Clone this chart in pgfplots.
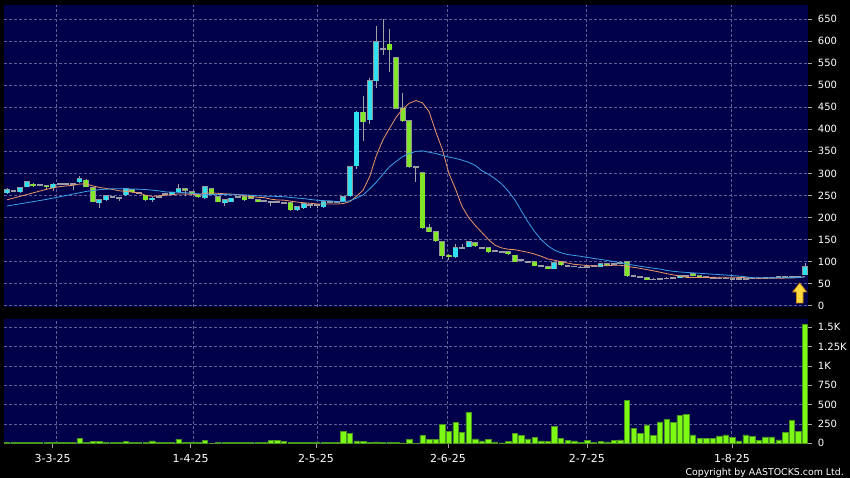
\documentclass[border=0pt]{standalone}
\usepackage{pgfplots}
\pgfplotsset{compat=1.18}
\usepackage{pgfplotstable}
\usepackage{fontspec}
\setmainfont{DejaVu Sans}

\definecolor{navybg}{RGB}{0,0,74}
\definecolor{gridc}{RGB}{95,95,150}
\definecolor{upc}{RGB}{45,225,240}
\definecolor{dnc}{RGB}{130,230,40}
\definecolor{edgec}{RGB}{150,150,155}
\definecolor{wickc}{RGB}{160,160,165}
\definecolor{dojic}{RGB}{155,155,165}
\definecolor{maorange}{RGB}{238,150,100}
\definecolor{mablue}{RGB}{60,160,230}
\definecolor{volfill}{RGB}{125,250,20}
\definecolor{voledge}{RGB}{75,150,30}
\definecolor{arrowy}{RGB}{255,218,60}
\definecolor{arrowo}{RGB}{205,135,20}

\pgfdeclareplotmark{yarrow}{%
  \pgfpathmoveto{\pgfpoint{0bp}{10bp}}%
  \pgfpathlineto{\pgfpoint{7bp}{1bp}}%
  \pgfpathlineto{\pgfpoint{3.3bp}{1bp}}%
  \pgfpathlineto{\pgfpoint{3.3bp}{-10bp}}%
  \pgfpathlineto{\pgfpoint{-3.3bp}{-10bp}}%
  \pgfpathlineto{\pgfpoint{-3.3bp}{1bp}}%
  \pgfpathlineto{\pgfpoint{-7bp}{1bp}}%
  \pgfpathclose
  \pgfusepathqfillstroke}

% daily candles (index, open, high, low, close), split by direction
\pgfplotstableread{
i o h l c
0 256 266 254 263
2 258 269 256 267
3 270 283 268 281
7 267 278 260 276
11 281 295 279 288
14 233 241 222 240
15 240 250 238 249
18 251 267 249 265
22 240 246 236 244
25 252 258 250 257
26 258 275 256 265
30 245 271 243 270
33 233 241 226 240
34 236 245 234 244
44 217 226 215 224
45 222 232 220 231
48 224 238 222 236
51 236 249 234 247
52 249 317 247 315
53 317 441 310 439
55 421 516 413 510
56 510 634 493 598
68 111 140 109 131
70 134 146 132 145
83 84 98 83 97
90 88 96 87 95
102 63 70 62 68
121 70 97 69 88
}\upcandles

\pgfplotstableread{
i o h l c
4 276 278 270 272
6 272 274 262 269
12 285 287 268 269
13 267 268 234 236
19 263 264 256 258
21 251 252 238 240
27 265 266 248 262
28 258 260 252 254
29 251 253 245 247
31 265 266 252 254
32 247 249 234 236
36 247 248 238 240
37 249 251 242 244
38 240 241 234 236
43 233 235 215 217
54 439 476 373 417
58 593 628 530 580
59 562 563 446 448
60 448 483 417 419
61 419 420 313 315
63 301 302 175 177
64 177 185 166 168
65 168 169 145 147
66 145 146 105 113
67 115 117 104 111
71 143 144 134 136
73 131 132 120 122
76 122 123 116 118
77 115 116 99 100
80 100 101 89 91
82 88 89 83 84
84 100 101 91 93
91 95 96 91 92
94 100 101 66 68
97 63 64 58 59
104 72 73 67 68
105 68 69 64 65
}\downcandles

\pgfplotstableread{
i o h l c
1 260 262 258 260
5 274 276 272 274
8 277 279 275 277
9 277 279 275 277
10 277 279 262 277
16 247 249 245 247
17 245 247 238 245
20 256 258 254 256
23 247 249 245 247
24 253 255 251 253
35 247 249 245 247
39 238 240 236 238
40 236 238 226 236
41 235 237 233 235
42 233 235 231 233
46 228 230 222 228
47 228 230 222 228
49 236 238 234 236
50 236 238 234 236
57 582 650 568 582
62 315 316 281 315
69 131 140 129 131
72 131 133 129 131
74 124 126 122 124
75 122 124 120 122
78 104 106 102 104
79 100 102 98 100
81 90 92 88 90
85 90 92 88 90
86 89 91 87 89
87 87 89 86 87
88 88 90 86 88
89 91 93 89 91
92 95 97 93 95
93 97 99 95 97
95 68 70 66 68
96 66 68 64 66
98 60 62 58 60
99 61 63 60 61
100 62 64 61 62
101 63 65 62 63
103 67 69 66 67
106 65 67 64 65
107 63 65 62 63
108 62 64 61 62
109 62 64 61 62
110 61 63 60 61
111 61 63 60 61
112 61 63 60 61
113 62 64 61 62
114 62 64 61 62
115 63 65 62 63
116 64 66 63 64
117 65 67 64 65
118 65 67 64 65
119 65 67 64 65
120 66 68 65 66
}\flatcandles

% daily volume
\pgfplotstableread{
i v
0 8
1 8
2 15
3 15
4 12
5 12
6 10
7 10
8 10
9 10
10 10
11 62
12 10
13 22
14 22
15 12
16 10
17 10
18 22
19 10
20 10
21 10
22 31
23 10
24 10
25 10
26 53
27 10
28 10
29 10
30 35
31 0
32 10
33 10
34 10
35 10
36 10
37 10
38 12
39 13
40 40
41 40
42 22
43 10
44 10
45 8
46 8
47 10
48 10
49 12
50 15
51 159
52 129
53 30
54 22
55 13
56 17
57 10
58 10
59 10
60 5
61 52
62 2
63 107
64 52
65 52
66 246
67 159
68 267
69 142
70 401
71 56
72 30
73 52
74 17
75 4
76 26
77 129
78 103
79 56
80 78
81 30
82 26
83 216
84 60
85 34
86 30
87 13
88 39
89 13
90 22
91 17
92 34
93 43
94 552
95 194
96 129
97 237
98 99
99 276
100 310
101 267
102 358
103 371
104 108
105 65
106 65
107 65
108 95
109 108
110 78
111 30
112 108
113 86
114 34
115 82
116 82
117 43
118 142
119 293
120 151
121 1540
}\vols

\pgfplotsset{
  panel/.style={
    scale only axis, anchor=south west, width=804bp,
    xmin=-0.455, xmax=121.46,
    axis background/.style={fill=navybg},
    axis line style={draw=none},
    ytick pos=right, yticklabel pos=right,
    tick align=outside, major tick length=4bp,
    tick style={draw=wickc, line width=0.6bp},
    major grid style={draw=gridc, dash pattern=on 3bp off 2bp, line width=0.6bp},
    ymajorgrids,
    /pgf/number format/assume math mode=true,
    yticklabel style={font=\fontsize{10bp}{12bp}\selectfont, text=white,
      anchor=west, inner sep=0pt, xshift=5.7bp},
  },
  % a thick error bar drawn as a candle body or wick
  stick/.style 2 args={draw=none, mark=none, forget plot,
    error bars/.cd, y dir=both, y explicit, error mark=none,
    error bar style={draw=#1, line width=#2}},
}

\begin{document}
\begin{tikzpicture}
\fill[black] (0,0) rectangle (850bp,478bp);

% price panel
\begin{axis}[panel, at={(4bp,171bp)}, height=302bp,
  ymin=-2.95, ymax=681.7,
  ytick={0,50,...,650},
  xtick={7.54,28.25,47.05,66.76,87.8,109.78}, xticklabels={},
  x tick style={draw=none}, xmajorgrids]
% wicks
\addplot[stick={wickc}{0.8bp}]
  table[x=i, y expr={(\thisrow{h}+\thisrow{l})/2},
        y error expr={(\thisrow{h}-\thisrow{l})/2}] {\upcandles};
\addplot[stick={wickc}{0.8bp}]
  table[x=i, y expr={(\thisrow{h}+\thisrow{l})/2},
        y error expr={(\thisrow{h}-\thisrow{l})/2}] {\downcandles};
\addplot[stick={wickc}{0.8bp}]
  table[x=i, y expr={(\thisrow{h}+\thisrow{l})/2},
        y error expr={(\thisrow{h}-\thisrow{l})/2}] {\flatcandles};
% flat candles
\addplot[stick={dojic}{5.8bp}]
  table[x=i, y=c, y error expr={1.5}] {\flatcandles};
% rising candles
\addplot[stick={edgec}{5.8bp}]
  table[x=i, y expr={(\thisrow{o}+\thisrow{c})/2},
        y error expr={(\thisrow{c}-\thisrow{o})/2+1.0}] {\upcandles};
\addplot[stick={upc}{4.2bp}]
  table[x=i, y expr={(\thisrow{o}+\thisrow{c})/2},
        y error expr={(\thisrow{c}-\thisrow{o})/2}] {\upcandles};
% falling candles
\addplot[stick={edgec}{5.8bp}]
  table[x=i, y expr={(\thisrow{o}+\thisrow{c})/2},
        y error expr={(\thisrow{o}-\thisrow{c})/2+1.0}] {\downcandles};
\addplot[stick={dnc}{4.2bp}]
  table[x=i, y expr={(\thisrow{o}+\thisrow{c})/2},
        y error expr={(\thisrow{o}-\thisrow{c})/2}] {\downcandles};
% 10-day average
\addplot[maorange, line width=0.8bp, mark=none] coordinates {
(0,240) (1,244) (2,248) (3,252) (4,256) (5,260) (6,264) (7,267) (8,270) (9,271.6)
(10,273) (11,275.8) (12,276) (13,271.5) (14,268.3) (15,265.8) (16,263.6) (17,260.5)
(18,259.3) (19,257.4) (20,255.3) (21,250.5) (22,248) (23,249.1) (24,250.4) (25,251.4)
(26,253.4) (27,253.1) (28,252.7) (29,251.8) (30,254.8) (31,255.8) (32,254.7) (33,253.8)
(34,252.9) (35,251.9) (36,249.4) (37,247.6) (38,245.8) (39,244.9) (40,241.5) (41,239.6)
(42,239.3) (43,237) (44,235) (45,233.4) (46,232.2) (47,230.6) (48,230.6) (49,230.4)
(50,230.4) (51,231.6) (52,236) (53,248) (54,262) (55,293) (56,340) (57,376) (58,402)
(59,427) (60,446) (61,459) (62,465) (63,460) (64,440) (65,395) (66,355) (67,300)
(68,265) (69,225) (70,200) (71,182) (72,166) (73,150) (74,137) (75,131) (76,128)
(77,127) (78,124) (79,121) (80,117) (81,112) (82,106) (83,103) (84,99.9) (85,96.7)
(86,93.8) (87,92.5) (88,90.9) (89,90) (90,90.4) (91,90.6) (92,91.7) (93,91.7) (94,89.2)
(95,87) (96,84.7) (97,81.9) (98,79.1) (99,76.1) (100,72.8) (101,69.9) (102,67.2)
(103,64.2) (104,64.2) (105,63.9) (106,63.8) (107,64.2) (108,64.4) (109,64.5) (110,64.4)
(111,64.2) (112,63.5) (113,63) (114,62.4) (115,62.2) (116,62.1) (117,62.3) (118,62.6)
(119,62.9) (120,63.4) (121,66.1)};
% 20-day average
\addplot[mablue, line width=0.8bp, mark=none] coordinates {
(0,226) (2,231) (4,236) (6,241) (8,247) (10,253) (12,259) (14,263) (16,265) (18,265)
(19,264.5) (20,264.2) (21,263.2) (22,262) (23,260.3) (24,258.1) (25,257.5) (26,257)
(27,256.2) (28,255.1) (29,253.6) (30,252.7) (31,251.9) (32,251.9) (33,251.9) (34,251.7)
(35,251.7) (36,251.4) (37,250.4) (38,249.3) (39,248.4) (40,248.2) (41,247.7) (42,247)
(43,245.4) (44,244) (45,242.7) (46,240.8) (47,239.1) (48,238.2) (49,237.7) (50,236)
(51,235.6) (52,238) (53,244) (54,251) (55,265) (56,280) (57,298) (58,315) (59,327)
(60,338) (61,345) (62,350) (63,351) (64,348) (65,345) (66,341) (67,337) (68,334)
(69,330) (70,325) (71,318) (72,306) (73,298) (74,288) (75,276) (76,260) (77,240)
(78,215) (79,190) (80,168) (81,150) (82,136) (83,126) (84,120) (85,116) (86,114)
(87,112) (88,109.5) (89,107) (90,105) (91,102.5) (92,100.3) (93,97.4) (94,94.6)
(95,91.9) (96,89.3) (97,87.2) (98,85) (99,83.1) (100,80) (101,78) (102,76.5) (103,75.5)
(104,74.5) (105,73.5) (106,72.5) (107,71.5) (108,70.5) (109,69.5) (110,68.3) (111,67)
(112,65.6) (113,63.6) (114,63.3) (115,63.1) (116,63) (117,63.3) (118,63.5) (119,63.7)
(120,63.9) (121,65.2)};
% marker arrow under the last candle
\addplot[only marks, mark=yarrow,
  mark options={fill=arrowy, draw=arrowo, line width=0.7bp}]
  coordinates {(120.2,28.8)};
\end{axis}

% volume panel
\begin{axis}[panel, at={(4bp,34bp)}, height=125bp,
  ymin=-9, ymax=1607,
  ytick={0,250,...,1500}, yticklabels={0,250,500,750,1K,1.25K,1.5K},
  xtick={6.93,27.85,46.85,66.87,87.94,109.93},
  xticklabels={3-3-25,1-4-25,2-5-25,2-6-25,2-7-25,1-8-25},
  xtick pos=bottom,
  xticklabel style={font=\fontsize{11bp}{13bp}\selectfont, text=white,
    anchor=base, yshift=-14.7bp},
  extra x ticks={7.54,28.25,47.05,66.76,87.8,109.78}, extra x tick labels={},
  extra x tick style={grid=major, major tick length=0pt}]
\addplot[ybar, bar width=5.4bp, fill=volfill, draw=voledge, line width=0.5bp]
  table[x=i, y=v] {\vols};
\end{axis}

\node[anchor=base east, inner sep=0pt, text=white,
  font=\fontsize{9.4bp}{11bp}\selectfont] at (844bp,3bp)
  {Copyright by AASTOCKS.com Ltd.};

\pgfresetboundingbox
\path (0,0) rectangle (850bp,478bp);
\end{tikzpicture}
\end{document}
